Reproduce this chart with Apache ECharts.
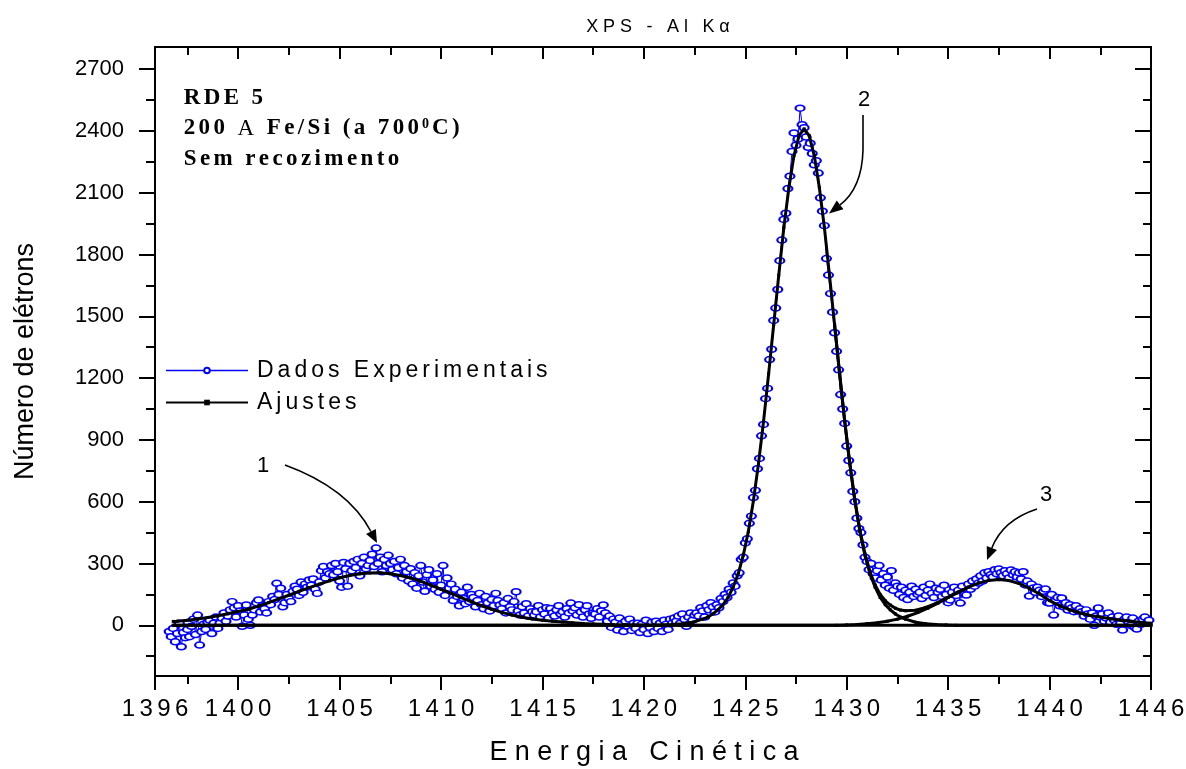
<!DOCTYPE html>
<html>
<head>
<meta charset="utf-8">
<title>XPS - Al Kα</title>
<script src="https://cdn.jsdelivr.net/npm/echarts@6/dist/echarts.min.js"></script>
<style>
  html, body { margin: 0; padding: 0; background: #fff; }
  #chart { width: 1186px; height: 769px; }
</style>
</head>
<body>
<div id="chart"></div>
<script>
// ---- axes ----
const xMin = 1395.9, xMax = 1445.0;
const xTickValues = [1395.9, 1400, 1405, 1410, 1415, 1420, 1425, 1430, 1435, 1440, 1445.0];
const xTickLabels = ['1396', '1400', '1405', '1410', '1415', '1420', '1425', '1430', '1435', '1440', '1446'];
const xMinorTicks = [1397.5, 1402.5, 1407.5, 1412.5, 1417.5, 1422.5, 1427.5, 1432.5, 1437.5, 1442.5];
const yMin = -246, yMax = 2807;
const yTickValues = [0, 300, 600, 900, 1200, 1500, 1800, 2100, 2400, 2700];
const yMinorTicks = [-150, 150, 450, 750, 1050, 1350, 1650, 1950, 2250, 2550];

// ---- measured spectrum (counts every 0.1 eV from 1396.6 eV) ----
const expStart = 1396.6, expStep = 0.1;
const expCounts = [
  -30, -55, -15, -80, -40, 10, -104, -35, -60, -20,
  -55, -5, 30, -45, 50, -96, -30, 5, -20, 15,
  25, -40, 10, 40, -15, 10, 35, 60, 20, 45,
  75, 115, 85, 40, 95, 70, -5, 50, 99, 30,
  0, 50, 75, 110, 123, 65, 95, 80, 60, 115,
  100, 140, 125, 204, 150, 180, 90, 110, 150, 130,
  115, 165, 190, 175, 145, 210, 160, 200, 185, 220,
  195, 225, 175, 155, 210, 265, 285, 230, 260, 250,
  290, 245, 300, 260, 215, 185, 305, 275, 190, 300,
  265, 310, 280, 320, 240, 300, 330, 275, 290, 315,
  345, 285, 375, 300, 330, 260, 320, 290, 340, 300,
  270, 310, 250, 280, 320, 230, 290, 260, 215, 275,
  200, 255, 180, 240, 290, 210, 165, 245, 270, 190,
  220, 175, 250, 160, 195, 290, 145, 230, 180, 200,
  120, 175, 140, 95, 160, 130, 105, 185, 115, 150,
  135, 90, 120, 155, 100, 80, 140, 110, 70, 125,
  95, 155, 120, 99, 80, 110, 60, 130, 90, 75,
  115, 163, 70, 50, 90, 60, 105, 45, 80, 66,
  50, 66, 95, 40, 75, 55, 85, 35, 82, 60,
  45, 75, 95, 55, 66, 40, 80, 60, 108, 70,
  85, 50, 100, 65, 40, 75, 95, 55, 34, 60,
  55, 80, 40, 70, 99, 60, 20, 45, -10, 30,
  15, -23, 35, 5, -30, 20, -5, 30, -25, 10,
  -15, 10, -35, 5, -20, 25, -40, -10, 15, -30,
  20, -15, 10, -30, 25, 5, -20, 30, 10, 35,
  20, 45, 10, 55, 30, -5, 40, 60, 25, 50,
  60, 45, 85, 70, 40, 95, 75, 110, 90, 65,
  100, 85, 130, 115, 150, 135, 175, 160, 205, 190,
  240, 255, 320, 330, 400, 420, 495, 530, 620, 655,
  760, 810, 920, 975, 1100, 1150, 1290, 1340, 1480, 1540,
  1630, 1770, 1870, 1970, 2000, 2120, 2180, 2300, 2390, 2330,
  2360, 2510, 2430, 2415, 2370, 2320, 2340, 2290, 2235, 2255,
  2195, 2075, 2010, 1940, 1780, 1700, 1610, 1520, 1420, 1330,
  1240, 1120, 1050, 980, 870, 800, 740, 650, 600, 520,
  470, 450, 390, 330, 310, 270, 300, 250, 230, 265,
  290, 220, 250, 195, 235, 180, 265, 170, 205, 190,
  150, 185, 135, 170, 125, 160, 190, 140, 175, 150,
  160, 130, 185, 145, 170, 200, 155, 135, 180, 160,
  175, 140, 195, 150, 110, 123, 160, 185, 145, 170,
  108, 190, 150, 147, 200, 175, 215, 190, 225, 205,
  240, 215, 255, 230, 260, 245, 235, 270, 250, 273,
  255, 240, 265, 250, 230, 268, 245, 260, 235, 255,
  225, 260, 196, 215, 142, 200, 181, 160, 185, 170,
  140, 165, 176, 110, 108, 150, 50, 120, 135, 95,
  133, 90, 110, 74, 100, 85, 66, 95, 70, 80,
  66, 45, 75, 55, 30, 60, 0, 45, 84, 40,
  55, 20, 35, 60, 15, 40, 25, 5, 45, 10,
  -23, 30, 40, 15, 0, 35, -10, -18, 20, 5,
  30, 40, 10, 25
];

// ---- fitted components [energy, counts] ----
const fitPeak1 = [
  [1396.8, 19], [1397, 20], [1397.5, 25], [1398, 31], [1398.5, 38], [1399, 46], [1399.5, 56],
  [1400, 67], [1400.5, 78], [1401, 93], [1401.5, 110], [1402, 128], [1402.5, 146], [1403, 165],
  [1403.5, 183], [1404, 200], [1404.5, 216], [1405, 231], [1405.5, 242], [1406, 250], [1406.5, 254],
  [1407, 255], [1407.5, 250], [1408, 242], [1408.5, 230], [1409, 214], [1409.5, 195], [1410, 175],
  [1410.5, 155], [1411, 134], [1411.5, 114], [1412, 95], [1412.5, 78], [1413, 63], [1413.5, 50],
  [1414, 39], [1414.5, 31], [1415, 25], [1415.5, 20], [1416, 16], [1416.5, 12], [1417, 9],
  [1417.5, 7], [1418, 5], [1418.5, 3], [1419, 2], [1419.5, 1], [1420, 0], [1445, 0]
];
const fitPeak2 = [
  [1396.8, 0], [1420.4, 0], [1420.9, 2], [1421.4, 4], [1421.9, 8], [1422.4, 15], [1422.9, 30],
  [1423.15, 40], [1423.4, 55], [1423.65, 75], [1423.9, 100], [1424.15, 135], [1424.4, 185],
  [1424.65, 250], [1424.9, 340], [1425.15, 455], [1425.4, 605], [1425.65, 785], [1425.9, 990],
  [1426.15, 1220], [1426.4, 1460], [1426.65, 1700], [1426.9, 1930], [1427.15, 2125], [1427.4, 2280],
  [1427.65, 2377], [1427.9, 2410], [1428.15, 2377], [1428.4, 2280], [1428.65, 2125], [1428.9, 1930],
  [1429.15, 1700], [1429.4, 1460], [1429.65, 1220], [1429.9, 990], [1430.15, 785], [1430.4, 605],
  [1430.65, 455], [1430.9, 340], [1431.15, 250], [1431.4, 185], [1431.65, 135], [1431.9, 100],
  [1432.15, 75], [1432.4, 55], [1432.65, 40], [1432.9, 30], [1433.4, 15], [1433.9, 8], [1434.4, 4],
  [1434.9, 2], [1435.4, 0], [1445, 0]
];
const fitPeak3 = [
  [1396.8, 0], [1429.5, 0], [1430, 2], [1430.5, 4], [1431, 8], [1431.5, 12], [1432, 20],
  [1432.5, 30], [1433, 44], [1433.5, 62], [1434, 83], [1434.5, 108], [1435, 135], [1435.5, 161],
  [1436, 185], [1436.5, 205], [1437, 218], [1437.5, 222], [1438, 217], [1438.5, 203], [1439, 180],
  [1439.5, 152], [1440, 120], [1440.5, 95], [1441, 75], [1441.5, 60], [1442, 48], [1442.5, 40],
  [1443, 32], [1443.5, 25], [1444, 20], [1444.5, 14], [1445, 10]
];
// envelope where peaks 2 and 3 overlap
const fitEnvelope = [
  [1429.4, 1460], [1429.65, 1222], [1429.9, 992], [1430.15, 788], [1430.4, 609], [1430.65, 461],
  [1430.9, 347], [1431.15, 259], [1431.4, 196], [1431.65, 150], [1431.9, 119], [1432.15, 98],
  [1432.4, 83], [1432.65, 74], [1432.9, 71], [1433.4, 73], [1433.9, 87], [1434.4, 107],
  [1434.9, 132], [1435.4, 156], [1435.5, 161], [1436, 185]
];

const FONT_SANS = "'Liberation Sans', Arial, Helvetica, sans-serif";
const FONT_SERIF = "'Liberation Serif', 'Times New Roman', Times, serif";

// wrap every character in a rich-text token so it gets extra tracking
function spaced(text, tag) {
  return Array.from(text).map(ch => '{' + tag + '|' + ch + '}').join('');
}

const expData = expCounts.map((c, i) => [+(expStart + i * expStep).toFixed(1), c]);

function xLabelFor(v) {
  for (let i = 0; i < xTickValues.length; i++) {
    if (Math.abs(xTickValues[i] - v) < 1e-6) return xTickLabels[i];
  }
  return '';
}

const axisLineStyle = { show: true, onZero: false, lineStyle: { color: '#000', width: 2 } };
const tickLine = { color: '#000', width: 2 };

function xAxisDef(position, inside, length, ticks, withLabels) {
  const ax = {
    type: 'value', position: position, min: xMin, max: xMax,
    axisLine: axisLineStyle, splitLine: { show: false },
    axisTick: { show: true, inside: inside, length: length, customValues: ticks, lineStyle: tickLine },
    axisLabel: { show: false }
  };
  if (withLabels) {
    ax.axisLabel = {
      show: true, customValues: xTickValues, margin: 21, showMinLabel: true, showMaxLabel: true,
      color: '#000', fontFamily: FONT_SANS, fontSize: 24,
      formatter: v => spaced(xLabelFor(v), 'd'),
      rich: { d: { color: '#000', fontFamily: FONT_SANS, fontSize: 24, padding: [0, 2.2, 0, 2.2] } }
    };
    ax.name = spaced('Energia Cinética', 'n');
    ax.nameLocation = 'middle';
    ax.nameGap = 63;
    ax.nameTextStyle = {
      color: '#000', fontFamily: FONT_SANS, fontSize: 27, padding: [0, 18, 0, 0],
      rich: { n: { color: '#000', fontFamily: FONT_SANS, fontSize: 27, padding: [0, 3.7, 0, 3.7] } }
    };
  }
  return ax;
}

function yAxisDef(position, inside, length, ticks, withLabels) {
  const ax = {
    type: 'value', position: position, min: yMin, max: yMax,
    axisLine: axisLineStyle, splitLine: { show: false },
    axisTick: { show: true, inside: inside, length: length, customValues: ticks, lineStyle: tickLine },
    axisLabel: { show: false }
  };
  if (withLabels) {
    ax.axisLabel = {
      show: true, customValues: yTickValues, margin: 31, showMinLabel: true, showMaxLabel: true,
      color: '#000', fontFamily: FONT_SANS, fontSize: 22,
      formatter: v => String(v)
    };
    ax.name = 'Número de elétrons';
    ax.nameLocation = 'middle';
    ax.nameGap = 116;
    ax.nameTextStyle = { color: '#000', fontFamily: FONT_SANS, fontSize: 27 };
  }
  return ax;
}

// curved annotation arrow: optional straight lead-in, quadratic curve, filled head
function arrow(lead, ctrl, tip, headLen, headHalf) {
  const start = lead[lead.length - 1];
  const dx = tip[0] - ctrl[0], dy = tip[1] - ctrl[1];
  const len = Math.hypot(dx, dy);
  const ux = dx / len, uy = dy / len;
  const bx = tip[0] - ux * headLen, by = tip[1] - uy * headLen;
  const stroke = { stroke: '#000', lineWidth: 1.6, fill: 'none' };
  const els = [];
  if (lead.length > 1) {
    els.push({ type: 'polyline', shape: { points: lead }, style: stroke, z: 10 });
  }
  els.push({
    type: 'bezierCurve',
    shape: { x1: start[0], y1: start[1], x2: bx, y2: by, cpx1: ctrl[0], cpy1: ctrl[1] },
    style: stroke, z: 10
  });
  els.push({
    type: 'polygon',
    shape: { points: [tip, [bx - uy * headHalf, by + ux * headHalf], [bx + uy * headHalf, by - ux * headHalf]] },
    style: { fill: '#000' }, z: 10
  });
  return els;
}

function peakLabel(text, x, y) {
  return {
    type: 'text', x: x, y: y, z: 10,
    style: {
      text: text, fill: '#000', font: '22px ' + FONT_SANS,
      align: 'center', verticalAlign: 'middle', textAlign: 'center', textVerticalAlign: 'middle'
    }
  };
}

const serifRich = {
  b: { fontFamily: FONT_SERIF, fontWeight: 'bold', fontSize: 23, color: '#000', padding: [0, 1.7, 0, 1.7] },
  r: { fontFamily: FONT_SERIF, fontWeight: 'normal', fontSize: 23, color: '#000', padding: [0, 1.7, 0, 1.7] },
  sup: { fontFamily: FONT_SERIF, fontWeight: 'bold', fontSize: 14, color: '#000', verticalAlign: 'top', padding: [0, 1.2, 0, 1.2] }
};

function sampleLine(richText, y) {
  return {
    type: 'text', x: 182, y: y, z: 10,
    style: {
      text: richText, rich: serifRich, fill: '#000',
      font: 'bold 23px ' + FONT_SERIF,
      align: 'left', verticalAlign: 'middle', textAlign: 'left', textVerticalAlign: 'middle'
    }
  };
}

const fitStyle = {
  type: 'line', xAxisIndex: 0, yAxisIndex: 0, name: 'Ajustes',
  symbol: 'rect', symbolSize: 3, showSymbol: true,
  lineStyle: { color: '#000', width: 3 }, itemStyle: { color: '#000' },
  z: 4, silent: true, animation: false
};

const chart = echarts.init(document.getElementById('chart'), null, { renderer: 'canvas', width: 1186, height: 769 });

chart.setOption({
  animation: false,
  backgroundColor: '#fff',
  title: {
    text: spaced('XPS - Al Kα', 't'),
    left: 658, top: 18, textAlign: 'center', padding: 0,
    textStyle: {
      color: '#000', fontFamily: FONT_SANS, fontSize: 18, fontWeight: 'normal',
      rich: { t: { color: '#000', fontFamily: FONT_SANS, fontSize: 18, padding: [0, 2.4, 0, 2.4] } }
    }
  },
  grid: { left: 155, top: 47, width: 996, height: 629, containLabel: false, outerBoundsMode: 'none' },
  legend: {
    orient: 'vertical', left: 165, top: 359, padding: 0,
    itemWidth: 82, itemHeight: 7, itemGap: 9,
    selectedMode: false,
    data: [
      { name: 'Dados Experimentais', lineStyle: { width: 1.5 } },
      { name: 'Ajustes', lineStyle: { width: 2 } }
    ],
    formatter: name => spaced(name, 'g'),
    textStyle: {
      color: '#000', fontFamily: FONT_SANS, fontSize: 23, padding: [0, 0, 0, 2],
      rich: { g: { color: '#000', fontFamily: FONT_SANS, fontSize: 23, padding: [0, 2.0, 0, 2.0] } }
    }
  },
  xAxis: [
    xAxisDef('bottom', false, 14, xTickValues, true),
    xAxisDef('bottom', false, 8, xMinorTicks, false),
    xAxisDef('top', true, 12, xTickValues.slice(1, -1), false),
    xAxisDef('top', true, 8, xMinorTicks, false)
  ],
  yAxis: [
    yAxisDef('left', false, 16, yTickValues, true),
    yAxisDef('left', false, 9, yMinorTicks, false),
    yAxisDef('right', true, 16, yTickValues, false),
    yAxisDef('right', true, 8, yMinorTicks, false)
  ],
  series: [
    {
      name: 'Dados Experimentais', type: 'line', xAxisIndex: 0, yAxisIndex: 0,
      data: expData,
      symbol: 'path://M0,5A5,5,0,1,1,10,5A5,5,0,1,1,0,5Z',
      symbolSize: [9, 6], showSymbol: true,
      lineStyle: { color: '#0000ff', width: 1 },
      itemStyle: { color: '#ffffff', borderColor: '#0000ff', borderWidth: 1.8 },
      z: 2, silent: true, animation: false
    },
    Object.assign({}, fitStyle, { data: fitPeak1 }),
    Object.assign({}, fitStyle, { data: fitPeak2 }),
    Object.assign({}, fitStyle, { data: fitPeak3 }),
    Object.assign({}, fitStyle, { data: fitEnvelope })
  ],
  graphic: [
    sampleLine(spaced('RDE 5', 'b'), 98),
    sampleLine(spaced('200 ', 'b') + spaced('A', 'r') + spaced(' Fe/Si (a 700', 'b') + '{sup|0}' + spaced('C)', 'b'), 128.5),
    sampleLine(spaced('Sem recozimento', 'b'), 159),
    peakLabel('1', 263, 466),
    peakLabel('2', 864, 100),
    peakLabel('3', 1046, 495)
  ]
    .concat(arrow([[285, 465]], [348, 488], [377, 543], 13, 5.5))
    .concat(arrow([[863, 115], [863, 150]], [862, 188], [829, 213.5], 14, 5.5))
    .concat(arrow([[1037, 509]], [1003, 520], [987, 560], 13, 5.5))
});
</script>
</body>
</html>
